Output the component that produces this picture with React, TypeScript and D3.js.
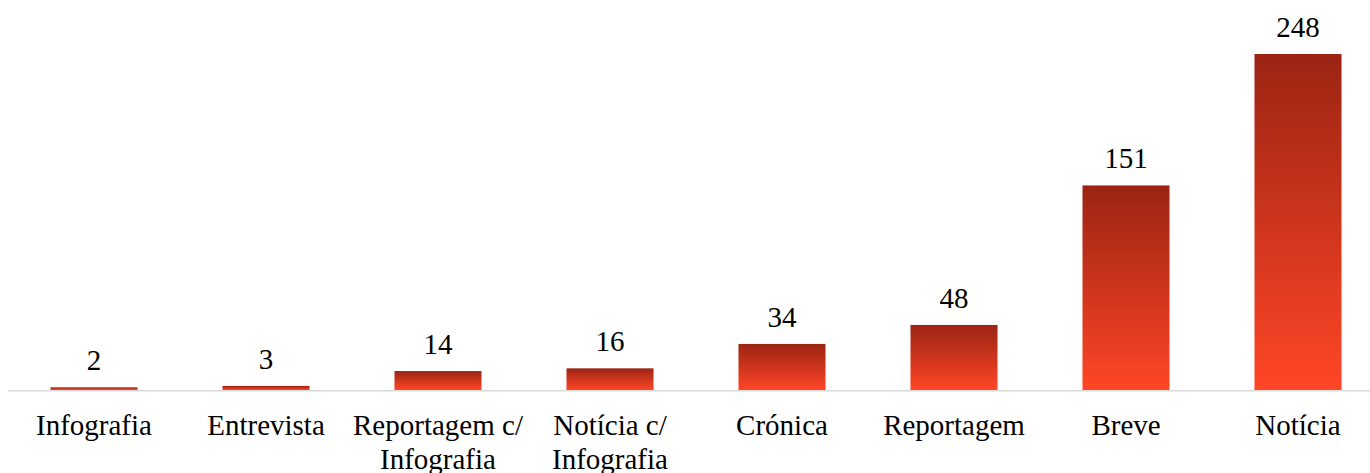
import React from "react";
import * as d3 from "d3";

const categories: string[][] = [
  ["Infografia"],
  ["Entrevista"],
  ["Reportagem c/", "Infografia"],
  ["Notícia c/", "Infografia"],
  ["Crónica"],
  ["Reportagem"],
  ["Breve"],
  ["Notícia"],
];
const values: number[] = [2, 3, 14, 16, 34, 48, 151, 248];

const W = 1370;
const H = 473;
const baseY = 390;
const topY = 54;
const left = 8;
const bandW = 172;

export default function App() {
  const keys = categories.map((c) => c.join(" "));
  const x = d3
    .scaleBand<string>()
    .domain(keys)
    .range([left, left + bandW * keys.length])
    .paddingInner(0.494)
    .paddingOuter(0.247);
  const y = d3.scaleLinear().domain([0, 248]).range([baseY, topY]);
  const textStyle: React.CSSProperties = {
    fontFamily: "'Liberation Serif', 'Times New Roman', serif",
    fontSize: "29px",
  };
  return (
    <svg
      width={W}
      height={H}
      style={{ position: "absolute", left: 0, top: 0, display: "block" }}
    >
      <defs>
        <linearGradient id="barGrad" x1="0" y1="0" x2="0" y2="1">
          <stop offset="0%" stopColor="#9B2413" />
          <stop offset="100%" stopColor="#FF4626" />
        </linearGradient>
      </defs>
      <line
        x1={left}
        x2={W}
        y1={baseY + 0.75}
        y2={baseY + 0.75}
        stroke="#D9D9D9"
        strokeWidth={1.5}
      />
      {keys.map((k, i) => {
        const bx = x(k)!;
        const by = y(values[i]);
        const cx = bx + x.bandwidth() / 2;
        return (
          <g key={k}>
            <rect
              x={bx}
              y={by}
              width={x.bandwidth()}
              height={baseY - by}
              fill="url(#barGrad)"
            />
            <text
              x={cx}
              y={by - 17}
              textAnchor="middle"
              style={textStyle}
              fill="#000"
            >
              {values[i]}
            </text>
            {categories[i].map((line, j) => (
              <text
                key={j}
                x={cx}
                y={435 + j * 34}
                textAnchor="middle"
                style={textStyle}
                fill="#000"
              >
                {line}
              </text>
            ))}
          </g>
        );
      })}
    </svg>
  );
}
